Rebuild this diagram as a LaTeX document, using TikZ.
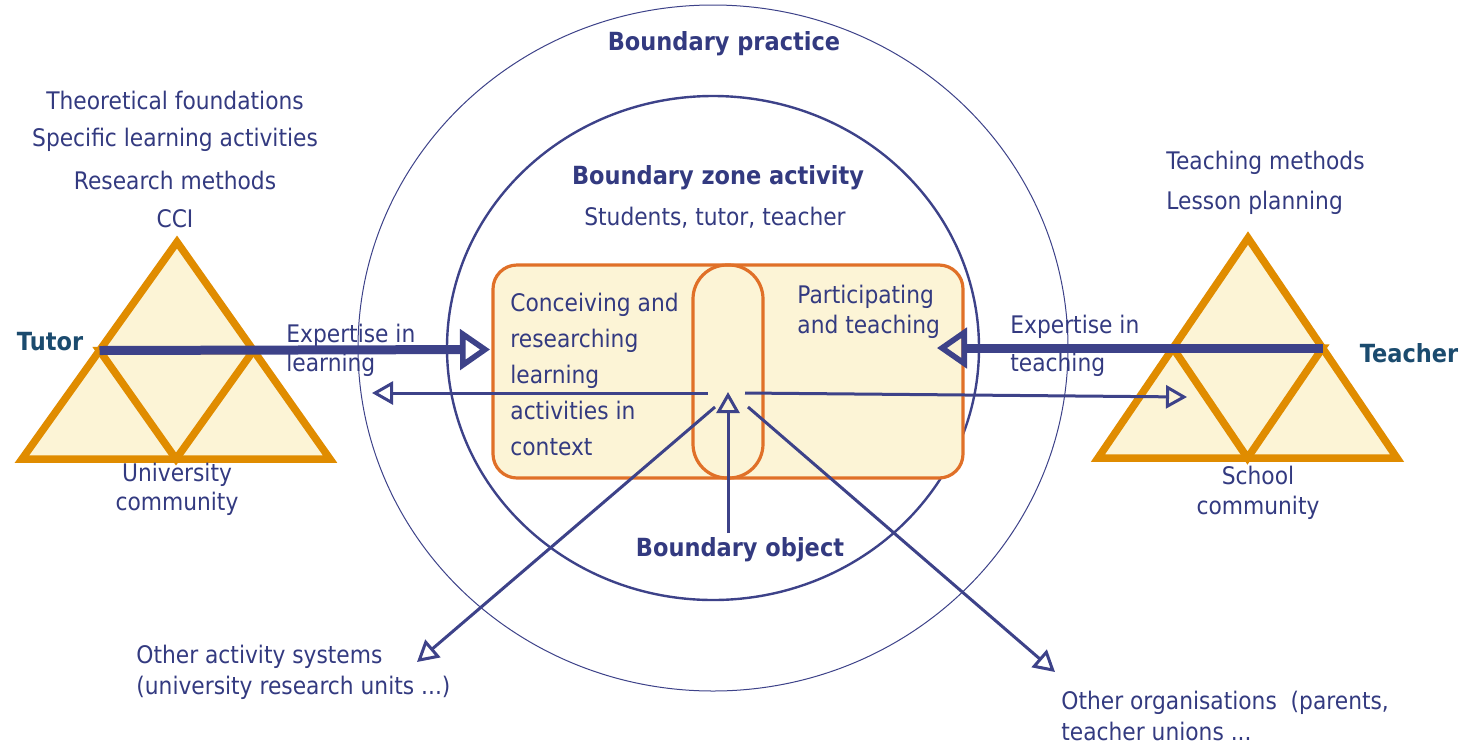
\documentclass[tikz,border=0pt]{standalone}
\usepackage{fontspec}
\setmainfont{DejaVu Sans}[FakeStretch=0.9]
\usetikzlibrary{arrows.meta}
\definecolor{navy}{HTML}{333A80}
\definecolor{lineblue}{HTML}{3D4289}
\definecolor{tutorcol}{HTML}{1B4B6E}
\definecolor{triorange}{HTML}{E08C00}
\definecolor{boxorange}{HTML}{E07028}
\definecolor{fillyel}{HTML}{FCF4D6}
\begin{document}
\begin{tikzpicture}[x=0.5pt,y=-0.5pt,
  lbl/.style={text=navy, inner sep=0, font=\fontsize{12.1pt}{#1}\selectfont},
  lbl/.default=14pt,
  hd/.style={text=navy, inner sep=0, font=\fontsize{12.5pt}{14pt}\selectfont\bfseries},
  role/.style={text=tutorcol, inner sep=0, font=\fontsize{12.5pt}{14pt}\selectfont\bfseries},
  tri/.style={draw=triorange, line width=3.75pt, fill=fillyel},
  triin/.style={draw=triorange, line width=3.75pt},
  bigarrow/.style={draw=lineblue, line width=4.5pt, -{Triangle[open, length=15pt, width=20pt, line width=2.8pt]}},
  thinarrow/.style={draw=lineblue, line width=1.5pt, -{Triangle[open, length=10.5pt, width=11.5pt]}},
  ring/.style={draw=lineblue},
  boxst/.style={draw=boxorange, line width=1.6pt, fill=fillyel, inner sep=0}
]
\useasboundingbox (0,0) rectangle (1477,745);

% circles
\draw[ring, line width=0.5pt] (713,348) ellipse [x radius=355, y radius=343];
\draw[ring, line width=1.2pt] (713,348) ellipse [x radius=266, y radius=252];

% texts in circles
\node[hd] (bp) at (724,44) {Boundary practice};
\node[hd] (bza) at (718,178) {Boundary zone activity};
\node[lbl] (stt) at (715,218) {Students, tutor, teacher};

% boundary object box
\node[boxst, rounded corners=12pt, minimum width=235pt, minimum height=106.5pt] (box) at (728,371.5) {};
\node[draw=boxorange, line width=1.6pt, inner sep=0, rounded corners=17pt, minimum width=35pt, minimum height=106.5pt] (caps) at (728,371.5) {};
\node[lbl=18pt, align=left, anchor=west] (conc) at (510,374) {Conceiving and\\researching\\learning\\activities in\\context};
\node[lbl=15pt, align=left, anchor=west] (part) at (797,312) {Participating\\and teaching};

% left triangle
\coordinate (la) at (177,242);
\coordinate (lb) at (22,459);
\coordinate (lc) at (330,459);
\coordinate (ll) at (99.5,350.5);
\coordinate (lr) at (253.5,350.5);
\coordinate (lm) at (176,459);
\draw[tri] (la) -- (lb) -- (lc) -- cycle;
\draw[triin] (ll) -- (lm) -- (lr) -- cycle;

% right triangle
\coordinate (ra) at (1248,238);
\coordinate (rb) at (1098,458);
\coordinate (rc) at (1397,458);
\coordinate (rl) at (1173,348);
\coordinate (rr) at (1322.5,348);
\coordinate (rm) at (1247.5,458);
\draw[tri] (ra) -- (rb) -- (rc) -- cycle;
\draw[triin] (rl) -- (rm) -- (rr) -- cycle;

% left texts
\node[lbl] (tf) at (175,100) {Theoretical foundations};
\node[lbl] (sla) at (175,140) {Specific learning activities};
\node[lbl] (rm1) at (175,180) {Research methods};
\node[lbl] (cci) at (175,219) {CCI};
\node[role] (tutor) at (50,342) {Tutor};
\node[lbl=14.5pt, align=center] (univ) at (177,489) {University\\community};
\node[lbl=14.5pt, align=left, anchor=west] (expl) at (286,350) {Expertise in\\learning};

% right texts
\node[lbl, anchor=west] (tm) at (1166,163) {Teaching methods};
\node[lbl, anchor=west] (lp) at (1166,203) {Lesson planning};
\node[role] (teacher) at (1409,353) {Teacher};
\node[lbl=15pt, align=center] (school) at (1258,493) {School\\community};
\node[lbl=19pt, align=left, anchor=west] (expt) at (1010,346) {Expertise in\\teaching};

% bottom texts
\node[hd] (bo) at (740,550) {Boundary object};
\node[lbl=15.5pt, align=left, anchor=west] (oas) at (136,672) {Other activity systems\\(university research units ...)};
\node[lbl=15.5pt, align=left, anchor=west] (oorg) at (1061,716) {Other organisations\ \ (parents,\\teacher unions ...};

% thick arrows
\coordinate (lin) at (490,349.5);
\coordinate (rin) at (937,348);
\draw[bigarrow] (ll) -- (lin);
\draw[bigarrow] (rr) -- (rin);

% thin arrows from boundary object
\coordinate (cl) at (708,393);
\coordinate (cr) at (745,393);
\coordinate (lt) at (372,393);
\coordinate (rt) at (1187,397);
\coordinate (vtop) at (728,392);
\coordinate (vbot) at (728,533);
\coordinate (dl0) at (715,407);
\coordinate (dl1) at (417,662);
\coordinate (dr0) at (748,407);
\coordinate (dr1) at (1055,672);
\draw[thinarrow] (cl) -- (lt);
\draw[thinarrow] (cr) -- (rt);
\draw[thinarrow] (vbot) -- (vtop);
\draw[thinarrow] (dl0) -- (dl1);
\draw[thinarrow] (dr0) -- (dr1);
\end{tikzpicture}
\end{document}
